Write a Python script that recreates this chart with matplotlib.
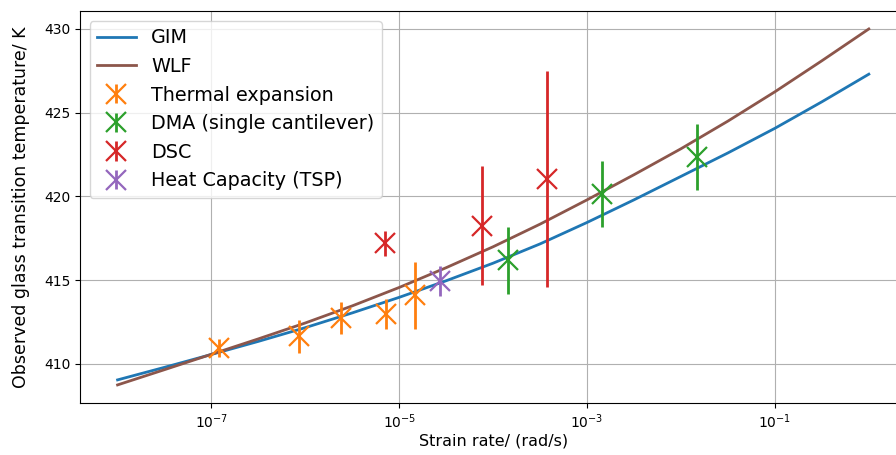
import matplotlib
matplotlib.use("Agg")
import matplotlib.pyplot as plt
import matplotlib.ticker as mticker

# model curves, sampled every half decade of strain rate
rate = [1e-8, 3.16e-8, 1e-7, 3.16e-7, 1e-6, 3.16e-6, 1e-5, 3.16e-5, 1e-4,
        3.16e-4, 1e-3, 3.16e-3, 1e-2, 3.16e-2, 1e-1, 3.16e-1, 1e0]
tg_gim = [409.05, 409.8, 410.57, 411.35, 412.17, 413.05, 413.98, 414.97, 416.02,
          417.17, 418.45, 419.8, 421.2, 422.6, 424.07, 425.65, 427.3]
tg_wlf = [408.75, 409.66, 410.58, 411.5, 412.45, 413.47, 414.57, 415.75, 417.0,
          418.35, 419.8, 421.3, 422.85, 424.5, 426.25, 428.1, 430.0]

# measurements
te_rate = [1.2e-7, 8.5e-7, 2.4e-6, 7.2e-6, 1.46e-5]
te_tg = [410.95, 411.65, 412.73, 413.0, 414.1]
te_err = [0.55, 0.98, 0.97, 0.9, 2.0]

dma_rate = [1.45e-4, 1.45e-3, 1.47e-2]
dma_tg = [416.2, 420.15, 422.35]
dma_err = [2.0, 1.95, 1.95]

dsc_rate = [7.0e-6, 7.6e-5, 3.7e-4]
dsc_tg = [417.2, 418.25, 421.05]
dsc_err = [0.75, 3.55, 6.45]

tsp_rate = [2.7e-5]
tsp_tg = [414.95]
tsp_err = [0.9]

fig = plt.figure(figsize=(8.96, 4.55), dpi=100)
ax = fig.add_axes([0.0893, 0.115, 0.9223, 0.8604])

ax.plot(rate, tg_gim, color='C0', lw=2, label='GIM')
ax.plot(rate, tg_wlf, color='C5', lw=2, label='WLF')

kw = dict(fmt='x', ms=14, mew=1.6, elinewidth=2)
ax.errorbar(te_rate, te_tg, yerr=te_err, color='C1', label='Thermal expansion', **kw)
ax.errorbar(dma_rate, dma_tg, yerr=dma_err, color='C2', label='DMA (single cantilever)', **kw)
ax.errorbar(dsc_rate, dsc_tg, yerr=dsc_err, color='C3', label='DSC', **kw)
ax.errorbar(tsp_rate, tsp_tg, yerr=tsp_err, color='C4', label='Heat Capacity (TSP)', **kw)

ax.set_xscale('log')
ax.xaxis.set_minor_locator(mticker.NullLocator())
ax.set_xticks([1e-7, 1e-5, 1e-3, 1e-1])
ax.set_xlim(10**-8.4, 10**0.4)
ax.set_ylim(407.69, 431.06)
ax.set_yticks([410, 415, 420, 425, 430])
ax.grid(True)
ax.tick_params(labelsize=10)

ax.set_xlabel('Strain rate/ (rad/s)', fontsize=11.5, labelpad=2)
ax.set_ylabel('Observed glass transition temperature/ K', fontsize=12.5, labelpad=10)
ax.legend(loc='upper left', fontsize=13.8)

fig.savefig('out.png', dpi=100)
